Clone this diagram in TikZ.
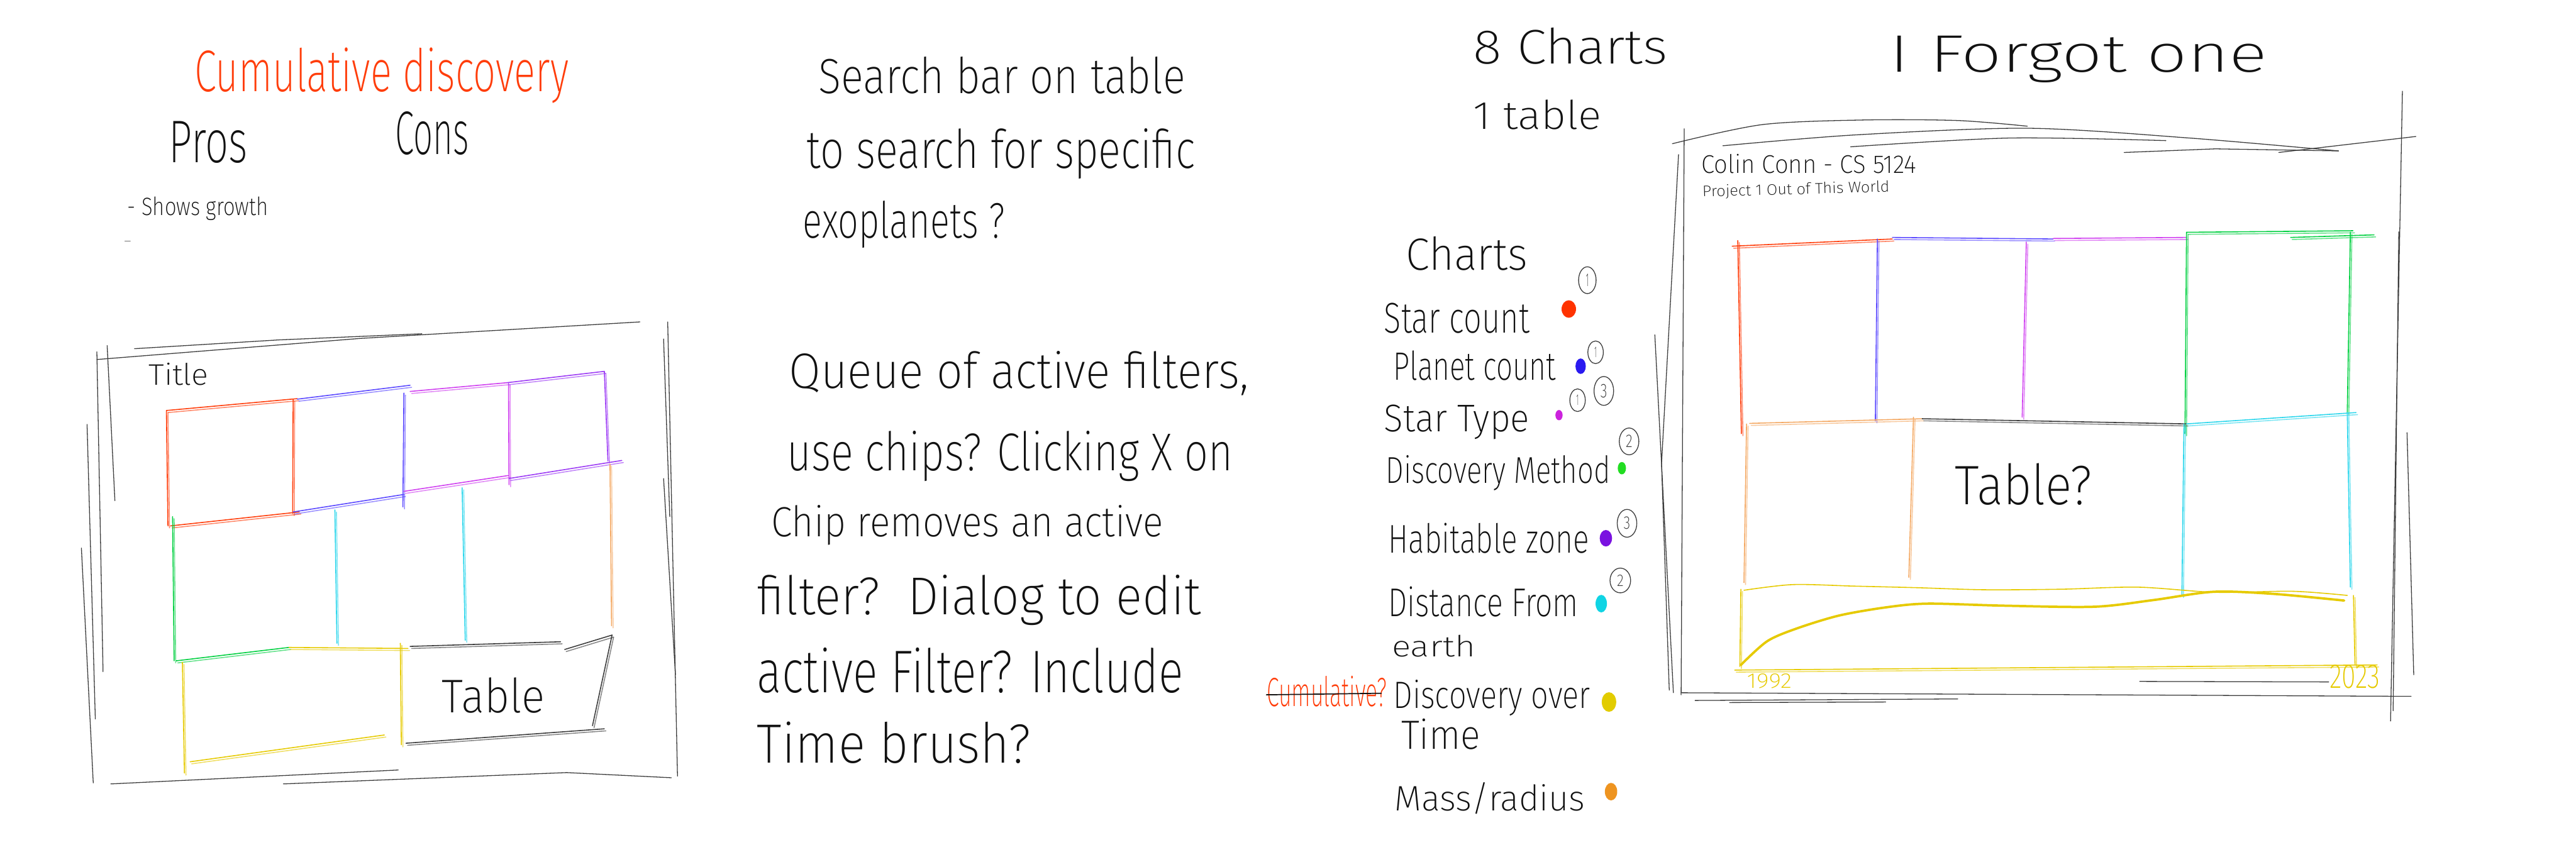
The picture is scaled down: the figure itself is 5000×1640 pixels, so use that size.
\documentclass[tikz,border=0pt]{standalone}
\usepackage{fontspec}
\usepackage{graphicx}
\IfFontExistsTF{Fira Sans ExtraLight}{\setmainfont{Fira Sans ExtraLight}}{\IfFontExistsTF{Fira Sans Light}{\setmainfont{Fira Sans Light}}{\setmainfont{Fira Sans}}}
\newlength\pxu \setlength\pxu{0.1mm}
\newcommand\hw[3]{\resizebox{#1\pxu}{#2\pxu}{#3}}
\definecolor{ink}{HTML}{111111}
\definecolor{frame}{HTML}{3C3C3C}
\definecolor{redo}{HTML}{FF3D0A}
\definecolor{cblue}{HTML}{5A48FF}
\definecolor{cmag}{HTML}{D040F0}
\definecolor{cpur}{HTML}{9C3AF5}
\definecolor{cgrn}{HTML}{00D040}
\definecolor{ccyan}{HTML}{2AD6EC}
\definecolor{corl}{HTML}{F4A862}
\definecolor{cyel}{HTML}{E6CA00}
\definecolor{dred}{HTML}{FF3300}
\definecolor{dblue}{HTML}{2A1AF0}
\definecolor{dmag}{HTML}{CC22DD}
\definecolor{dgrn}{HTML}{22DD22}
\definecolor{dpur}{HTML}{7A12E0}
\definecolor{dcyan}{HTML}{10D4E4}
\definecolor{dyel}{HTML}{E2CC00}
\definecolor{dora}{HTML}{EE9420}
\newcommand\sk[3]{\draw[sk,#1] #2 -- #3; \draw[sk,#1,opacity=.6,shift={(3,4)}] #2 -- #3;}
\begin{document}
\begin{tikzpicture}[x=0.1mm,y=-0.1mm,
  txt/.style={anchor=base west,inner sep=0pt,text=ink},
  sk/.style={line width=0.55pt,line cap=round,line join=round},
  fr/.style={sk,draw=frame,line width=0.45pt},
  num/.style={inner sep=0pt,text=frame}]
\fill[white] (0,0) rectangle (5000,1640);
\useasboundingbox (0,0) rectangle (5000,1640);

% ---------------- left section ----------------
\node[txt,text=redo] (cumdisc) at (377,178) {\hw{726}{85}{Cumulative discovery}};
\node[txt] (pros) at (327,316) {\hw{153}{80}{Pros}};
\node[txt] (cons) at (767,300) {\hw{143}{83}{Cons}};
\node[txt] (growth) at (247,418) {\hw{273}{36}{- Shows growth}};
\node[txt] (dash) at (238,474) {\hw{18}{6}{-}};

% outer frame
\draw[fr] (261,677) -- (540,660) -- (819,648);
\draw[fr] (188,698) -- (700,657) -- (1242,625);
\draw[fr] (208,671) -- (223,972);
\draw[fr] (188,683) -- (200,1304);
\draw[fr] (169,824) -- (185,1396);
\draw[fr] (158,1064) -- (181,1520);
\draw[fr] (1296,625) -- (1315,1507);
\draw[fr] (1288,658) -- (1300,1003);
\draw[fr] (1288,929) -- (1311,1310);
\draw[fr] (215,1522) -- (773,1495);
\draw[fr] (550,1522) -- (1100,1500) -- (1303,1510);

\node[txt] (title) at (288,748) {\hw{116}{43}{Title}};

% grid
\sk{redo}{(323,797)}{(577,774)}
\sk{redo}{(323,797)}{(326,1021)}
\sk{redo}{(569,775)}{(568,997)}
\sk{redo}{(331,1021)}{(581,994)}
\sk{cblue}{(577,775)}{(796,748)}
\sk{cblue}{(784,763)}{(782,984)}
\sk{cblue}{(569,994)}{(784,960)}
\sk{cmag}{(796,760)}{(984,743)}
\sk{cmag}{(987,743)}{(988,941)}
\sk{cmag}{(784,954)}{(988,923)}
\sk{cpur}{(984,743)}{(1173,721)}
\sk{cpur}{(1173,721)}{(1180,895)}
\sk{cpur}{(988,929)}{(1207,894)}
\sk{cgrn}{(335,1003)}{(338,1283)}
\sk{cgrn}{(342,1283)}{(561,1257)}
\sk{ccyan}{(650,990)}{(654,1249)}
\sk{ccyan}{(897,947)}{(903,1243)}
\sk{corl}{(1184,901)}{(1187,1215)}
\sk{cyel}{(561,1257)}{(792,1259)}
\sk{cyel}{(354,1286)}{(358,1501)}
\sk{cyel}{(777,1249)}{(779,1446)}
\sk{cyel}{(369,1479)}{(746,1427)}
\sk{frame}{(796,1255)}{(1088,1246)}
\sk{frame}{(1096,1261)}{(1188,1233)}
\sk{frame}{(1188,1233)}{(1150,1409)}
\sk{frame}{(788,1443)}{(1173,1415)}
\node[txt] (tableL) at (857,1384) {\hw{200}{68}{Table}};

% ---------------- middle section ----------------
\node[txt] (s1) at (1588,181) {\hw{712}{71}{Search bar on table}};
\node[txt] (s2) at (1565,327) {\hw{754}{77}{to search for specific}};
\node[txt] (s3) at (1558,462) {\hw{392}{72}{exoplanets ?}};

\node[txt] (q1) at (1531,754) {\hw{892}{72}{Queue of active filters,}};
\node[txt] (q2) at (1527,914) {\hw{865}{77}{use chips? Clicking X on}};
\node[txt] (q3) at (1496,1042) {\hw{761}{61}{Chip removes an active}};
\node[txt] (q4) at (1469,1193) {\hw{861}{77}{filter?\ \ Dialog to edit}};
\node[txt] (q5) at (1469,1344) {\hw{827}{87}{active Filter? Include}};
\node[txt] (q6) at (1469,1481) {\hw{531}{80}{Time brush?}};

% ---------------- chart list ----------------
\node[txt] (eight) at (2859,124) {\hw{377}{70}{8 Charts}};
\node[txt] (onetab) at (2859,251) {\hw{249}{57}{1 table}};
\node[txt] (charts) at (2728,524) {\hw{236}{65}{Charts}};
\node[txt] (l1) at (2686,646) {\hw{282}{58}{Star count}};
\node[txt] (l2) at (2704,738) {\hw{315}{57}{Planet count}};
\node[txt] (l3) at (2686,838) {\hw{282}{52}{Star Type}};
\node[txt] (l4) at (2689,938) {\hw{436}{54}{Discovery Method}};
\node[txt] (l5) at (2694,1074) {\hw{390}{58}{Habitable zone}};
\node[txt] (l6) at (2694,1197) {\hw{369}{58}{Distance From}};
\node[txt] (l6b) at (2701,1275) {\hw{162}{42}{earth}};
\node[txt,text=redo] (cumq) at (2458,1371) {\hw{233}{59}{Cumulative?}};
\draw[sk,draw=ink,line width=0.6pt] (2458,1349) -- (2681,1346);
\node[txt] (l7) at (2704,1375) {\hw{382}{55}{Discovery over}};
\node[txt] (l7b) at (2719,1455) {\hw{154}{59}{Time}};
\node[txt] (l8) at (2706,1574) {\hw{370}{55}{Mass/radius}};

% dots
\fill[dred] (3045,600) ellipse [x radius=14, y radius=17];
\fill[dblue] (3068,711) ellipse [x radius=10, y radius=15];
\fill[dmag] (3026,806) ellipse [x radius=7, y radius=10];
\fill[dgrn] (3148,909) ellipse [x radius=8, y radius=12];
\fill[dpur] (3117,1045) ellipse [x radius=12, y radius=16];
\fill[dcyan] (3108,1172) ellipse [x radius=11, y radius=17];
\fill[dyel] (3123,1363) ellipse [x radius=14, y radius=19];
\fill[dora] (3127,1537) ellipse [x radius=12, y radius=17];

% circled numbers
\draw[fr] (3081,544) ellipse [x radius=17, y radius=26];
\node[num] (n1) at (3081,544) {\hw{6}{24}{1}};
\draw[fr] (3097,684) ellipse [x radius=15, y radius=22];
\node[num] (n2) at (3097,684) {\hw{5}{20}{1}};
\draw[fr] (3062,777) ellipse [x radius=15, y radius=22];
\node[num] (n3) at (3062,777) {\hw{5}{20}{1}};
\draw[fr] (3113,759) ellipse [x radius=19, y radius=28];
\node[num] (n4) at (3113,759) {\hw{13}{26}{3}};
\draw[fr] (3162,857) ellipse [x radius=19, y radius=26];
\node[num] (n5) at (3162,857) {\hw{13}{24}{2}};
\draw[fr] (3158,1016) ellipse [x radius=19, y radius=27];
\node[num] (n6) at (3158,1016) {\hw{13}{24}{3}};
\draw[fr] (3145,1127) ellipse [x radius=20, y radius=24];
\node[num] (n7) at (3145,1127) {\hw{13}{22}{2}};

% ---------------- right section ----------------
\node[txt] (forgot) at (3667,140) {\hw{733}{70}{I Forgot one}};

\draw[fr] plot[smooth] coordinates {(3246,279) (3420,242) (3615,233) (3800,234) (3935,245)};
\draw[fr] plot[smooth] coordinates {(3344,283) (3600,262) (3935,249) (4250,268) (4539,293)};
\draw[fr] plot[smooth] coordinates {(3592,285) (3900,268) (4204,273)};
\draw[fr] (4123,296) -- (4300,289) -- (4539,293);
\draw[fr] (4423,296) -- (4689,265);
\draw[fr] (3269,250) -- (3263,1349);
\draw[fr] (3258,300) -- (3225,900) -- (3240,1340);
\draw[fr] (3212,650) -- (3248,1345);
\draw[fr] (4663,177) -- (4640,1400);
\draw[fr] (4656,450) -- (4645,1380);
\draw[fr] (4672,840) -- (4685,1310);
\draw[fr] (3263,1345) -- (4680,1352);
\draw[fr] (3290,1360) -- (3800,1357);
\draw[fr] (3357,1364) -- (3660,1363);
\draw[fr] (4153,1323) -- (4520,1324);

\node[txt] (colin) at (3302,336) {\hw{417}{37}{Colin Conn - CS 5124}};
\node[txt,rotate=1.5] (proj) at (3304,382) {\hw{363}{22}{Project 1 Out of This World}};

\sk{redo}{(3362,478)}{(3673,464)}
\sk{redo}{(3373,467)}{(3380,842)}
\sk{cblue}{(3673,461)}{(3985,464)}
\sk{cblue}{(3644,464)}{(3640,817)}
\sk{cmag}{(3985,463)}{(4244,461)}
\sk{cmag}{(3933,470)}{(3925,810)}
\sk{cgrn}{(4244,451)}{(4567,448)}
\sk{cgrn}{(4446,461)}{(4608,456)}
\sk{cgrn}{(4244,451)}{(4241,842)}
\sk{cgrn}{(4562,451)}{(4556,801)}
\sk{corl}{(3396,822)}{(3731,813)}
\sk{corl}{(3390,823)}{(3385,1131)}
\sk{corl}{(3714,810)}{(3705,1121)}
\sk{frame}{(3731,813)}{(4244,823)}
\sk{ccyan}{(4244,823)}{(4573,801)}
\sk{ccyan}{(4239,823)}{(4235,1156)}
\sk{ccyan}{(4556,801)}{(4562,1140)}
\draw[sk,cyel] plot[smooth] coordinates {(3385,1146) (3480,1135) (3600,1138) (3720,1141) (3850,1145) (4000,1144) (4150,1140) (4300,1150) (4450,1148) (4556,1156)};
\sk{cyel}{(3379,1144)}{(3377,1294)}
\sk{cyel}{(4568,1156)}{(4571,1291)}
\sk{cyel}{(3367,1301)}{(4614,1291)}
\draw[sk,cyel,line width=1.3pt] plot[smooth] coordinates {(3379,1291) (3430,1245) (3488,1220) (3570,1195) (3662,1179) (3742,1172) (3892,1176) (4065,1178) (4180,1165) (4296,1149) (4412,1153) (4550,1166)};
\node[txt] (tableR) at (3794,980) {\hw{266}{80}{Table?}};
\node[txt,text=cyel] (y1992) at (3390,1336) {\hw{87}{28}{1992}};
\node[txt,text=cyel] (y2023) at (4521,1336) {\hw{98}{45}{2023}};
\end{tikzpicture}
\end{document}
